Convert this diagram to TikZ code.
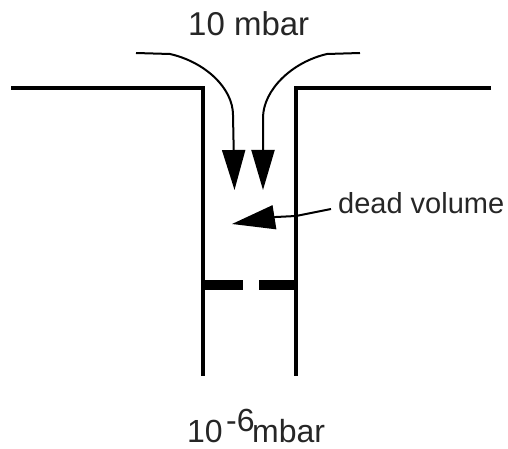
\documentclass[tikz,border=0pt]{standalone}
\usepackage{fontspec}
\setmainfont{Liberation Sans}
\usetikzlibrary{arrows.meta}
\tikzset{
  wall/.style={line width=4pt,line cap=butt,line join=miter},
  plate/.style={line width=10pt},
  flow/.style={line width=2pt,-{Triangle[length=40pt,width=23pt]}},
  leader/.style={line width=2pt,-{Triangle[length=43pt,width=24pt]}},
  big/.style={font=\fontsize{33}{36}\selectfont,inner sep=0pt,text=black!85},
  low/.style={font=\fontsize{32}{35}\selectfont,inner sep=0pt,text=black!85},
  small/.style={font=\fontsize{29}{32}\selectfont,inner sep=0pt,text=black!85}
}
\begin{document}
\begin{tikzpicture}[x=1pt,y=-1pt]
\useasboundingbox (0,0) rectangle (508,449);
% walls
\coordinate (la) at (11,88);
\coordinate (lb) at (203,88);
\coordinate (lc) at (203,376);
\coordinate (ra) at (491,88);
\coordinate (rb) at (296,88);
\coordinate (rc) at (296,376);
\draw[wall] (la) -- (lb) -- (lc);
\draw[wall] (ra) -- (rb) -- (rc);
% orifice plate
\coordinate (p1) at (203,285);
\coordinate (p2) at (243,285);
\coordinate (p3) at (259,285);
\coordinate (p4) at (296,285);
\draw[plate] (p1) -- (p2);
\draw[plate] (p3) -- (p4);
% flows
\coordinate (fl0) at (136,53);
\coordinate (fl1) at (233,115);
\coordinate (fl2) at (234.5,190);
\coordinate (fr0) at (360,53);
\coordinate (fr1) at (263,118);
\coordinate (fr2) at (263,190);
\draw[flow] (fl0) -- (170,54) .. controls (205,62) and (233,88) .. (fl1) -- (fl2);
\draw[flow] (fr0) -- (327,54) .. controls (292,62) and (263,90) .. (fr1) -- (fr2);
% labels
\node[big,anchor=base west] (top) at (188,36) {10 mbar};
\node[small,anchor=base west] (dv) at (338,213) {dead volume};
\node[low,anchor=base west] (b10) at (187,442) {10};
\node[low,anchor=base west] (bexp) at (226,431) {-6};
\node[low,anchor=base west] (bm) at (252,442) {mbar};
% dead volume leader
\coordinate (dv0) at (331,209);
\coordinate (dv1) at (296,216);
\coordinate (dv2) at (276,217);
\coordinate (dv3) at (232,224);
\draw[leader] (dv0) -- (dv1) -- (dv2) -- (dv3);
\end{tikzpicture}
\end{document}
